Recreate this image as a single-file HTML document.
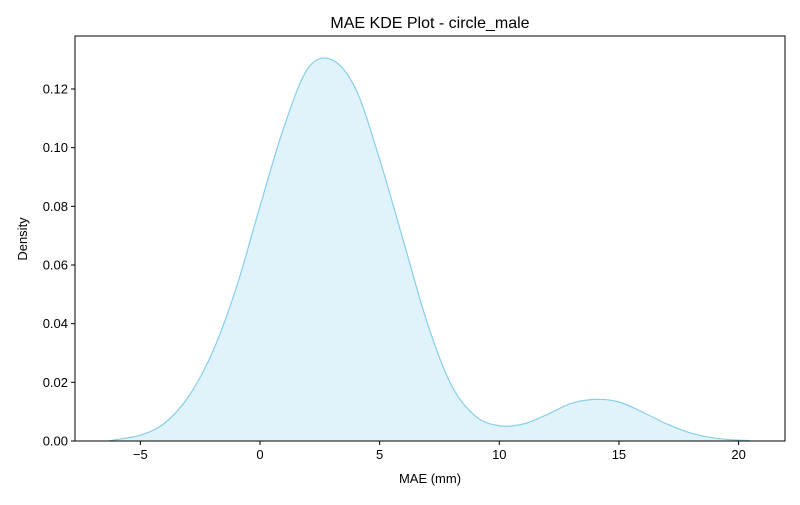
<!DOCTYPE html>
<html><head><meta charset="utf-8"><style>
body{margin:0;background:#fff;}
svg{font-family:"Liberation Sans",sans-serif;}
</style></head><body>
<svg id="chart" width="800" height="500">
<text x="430" y="28" text-anchor="middle" font-size="16">MAE KDE Plot - circle_male</text>
<text x="430" y="483" text-anchor="middle" font-size="13">MAE (mm)</text>
<text transform="translate(27,239) rotate(-90)" text-anchor="middle" font-size="13">Density</text>
<g id="marks"></g>
<g id="axes"></g>
</svg>
<script>
const xs=[-6.35,-6,-5,-4,-3,-2,-1,0,1,2,3,4,5,6,7,8,9,10,11,12,13,14,15,16,17,18,19,20,20.5];
const ys=[0,0.0005,0.002,0.006,0.015,0.03,0.052,0.08,0.107,0.127,0.130,0.12,0.096,0.068,0.04,0.019,0.0085,0.0052,0.0058,0.009,0.0128,0.0142,0.0133,0.0098,0.0058,0.0027,0.001,0.0003,0.0001];
const xTicks=[-5,0,5,10,15,20];
const yTicks=[0,0.02,0.04,0.06,0.08,0.10,0.12];
const yTickLabels=["0.00","0.02","0.04","0.06","0.08","0.10","0.12"];
const L=75,R=785,T=36,B=441;
const X=v=>260+v*23.93;
const Y=v=>B-v*2933.3;
const NS="http://www.w3.org/2000/svg";
function mk(t,a,p){const e=document.createElementNS(NS,t);for(const k in a)e.setAttribute(k,a[k]);p.appendChild(e);return e;}
const marks=document.getElementById('marks'),axes=document.getElementById('axes');
const P=xs.map((x,i)=>[X(x),Y(ys[i])]);
let d="M"+P[0][0]+","+P[0][1];
for(let i=0;i<P.length-1;i++){const p0=P[Math.max(0,i-1)],p1=P[i],p2=P[i+1],p3=P[Math.min(P.length-1,i+2)];
d+=" C"+(p1[0]+(p2[0]-p0[0])/6)+","+(p1[1]+(p2[1]-p0[1])/6)+" "+(p2[0]-(p3[0]-p1[0])/6)+","+(p2[1]-(p3[1]-p1[1])/6)+" "+p2[0]+","+p2[1];}
const fill=mk('path',{d:d+" L"+P[P.length-1][0]+","+B+" L"+P[0][0]+","+B+" Z",fill:"#87ceeb","fill-opacity":"0.25",stroke:"none"},marks);


const line=mk('path',{d:d,fill:"none",stroke:"#87ceeb","stroke-width":"1.2"},marks);


const frame=mk('rect',{x:L,y:T,width:R-L,height:B-T,fill:"none",stroke:"#000","stroke-width":"1"},axes);


xTicks.forEach(v=>{const x=X(v);
mk('line',{x1:x,x2:x,y1:B,y2:B+4,stroke:"#000"},axes);
const t=mk('text',{x:x,y:B+18,"text-anchor":"middle","font-size":"13"},axes);t.textContent=v<0?"\u2212"+(-v):v;

});
yTicks.forEach((v,i)=>{const y=Y(v);
mk('line',{x1:L-4,x2:L,y1:y,y2:y,stroke:"#000"},axes);
const t=mk('text',{x:L-7,y:y+4.5,"text-anchor":"end","font-size":"13"},axes);t.textContent=yTickLabels[i];

});
</script>
</body></html>
